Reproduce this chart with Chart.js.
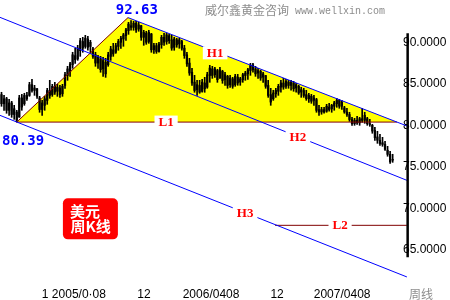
<!DOCTYPE html>
<html>
<head>
<meta charset="utf-8">
<script src="https://cdn.jsdelivr.net/npm/chart.js@4.4.1/dist/chart.umd.min.js"></script>
<style>
  html, body { margin: 0; padding: 0; background: #fff; }
  #wrap { width: 450px; height: 300px; position: relative; }
</style>
</head>
<body>
<div id="wrap"><canvas id="chart"></canvas></div>
<script>
// weekly bars of the dollar index, one entry per week (week 0 = first bar)
const opens = [
  83.7,82.6,83.2,81.8,82.7,81.3,81.6,81.0,83.3,82.6,
  83.6,83.6,84.9,84.2,84.4,83.3,81.9,82.4,83.0,84.2,
  83.7,84.7,84.1,84.5,83.8,84.8,86.0,86.5,87.3,88.4,
  88.0,89.0,90.1,89.5,90.4,89.5,89.2,88.5,87.5,88.0,
  86.8,87.6,87.3,88.3,89.1,88.8,89.5,90.0,90.4,90.8,
  91.4,92.0,91.8,92.3,91.6,92.0,90.6,91.1,90.1,91.0,
  89.1,89.6,88.9,89.7,90.6,90.1,90.8,90.3,89.4,90.3,
  89.8,90.1,89.3,88.5,87.5,86.4,85.2,84.3,84.8,84.1,
  85.1,84.6,86.0,86.8,86.1,86.6,85.7,86.5,85.5,85.9,
  84.9,85.6,84.9,85.8,85.2,85.5,86.0,86.2,86.6,87.3,
  86.8,86.3,86.5,85.8,86.0,84.8,83.7,83.2,83.8,84.1,
  84.6,85.1,84.7,85.2,84.8,85.1,84.5,84.7,84.0,84.2,
  83.7,83.2,83.5,83.0,83.1,81.9,81.6,81.9,81.7,82.2,
  82.0,82.3,82.6,83.0,82.3,82.1,81.6,81.3,80.7,80.2,
  80.6,80.3,80.8,80.6,80.8,80.2,80.0,79.4,78.6,78.2,
  77.9,77.7,77.0,76.5,75.8
];
const highs = [
  83.98,83.61,83.37,83.13,82.89,82.41,81.81,83.61,83.73,83.86,
  83.98,85.18,85.54,84.82,84.46,83.49,83.01,83.49,84.46,85.42,
  84.94,85.18,84.94,84.82,84.94,86.39,87.11,87.59,88.80,89.28,
  89.64,90.48,90.60,90.84,90.72,90.24,89.40,88.80,88.43,88.31,
  88.19,88.07,88.80,89.52,89.88,89.88,90.36,90.72,91.08,91.69,
  92.41,92.63,92.53,92.53,92.41,92.05,91.45,91.33,91.45,91.08,
  89.88,89.88,90.00,90.84,91.08,91.08,90.96,90.84,90.60,90.48,
  90.48,90.24,89.64,88.80,88.07,86.87,86.02,85.42,85.42,85.54,
  85.78,86.39,87.23,87.11,86.99,86.75,86.99,86.63,86.39,86.02,
  86.02,85.78,86.14,86.14,85.78,86.27,86.51,86.87,87.47,87.47,
  87.11,86.87,86.63,86.39,86.02,85.42,84.46,84.22,84.46,84.94,
  85.42,85.66,85.54,85.42,85.42,85.30,85.06,84.82,84.58,84.46,
  84.22,83.86,83.73,83.61,83.25,82.41,82.17,82.17,82.53,82.65,
  82.53,82.89,83.25,83.13,83.01,82.29,82.05,81.57,80.96,80.84,
  81.08,80.96,82.05,81.57,80.96,80.72,80.12,79.76,79.28,78.92,
  78.55,78.07,77.47,76.87,76.51
];
const lows = [
  82.29,81.81,81.45,81.20,80.96,80.72,80.39,80.96,81.81,82.41,
  83.01,83.49,83.98,83.61,83.25,81.57,81.20,81.81,82.53,83.25,
  83.49,83.73,83.49,83.37,83.49,84.46,85.42,85.90,86.87,87.47,
  87.83,88.31,88.80,89.28,89.04,88.67,88.07,87.11,86.87,86.39,
  85.90,85.78,87.11,87.83,88.31,88.67,89.04,89.28,89.52,90.24,
  90.96,91.45,91.45,91.20,91.33,90.24,89.64,89.76,89.88,88.80,
  88.67,88.67,88.80,89.28,89.64,89.76,89.88,89.04,89.04,89.40,
  89.28,89.04,88.07,87.11,86.02,84.82,83.98,83.61,83.86,83.98,
  83.98,84.46,85.18,85.66,85.78,85.18,85.66,85.06,84.82,84.46,
  84.58,84.46,84.70,84.82,84.82,85.18,85.42,85.54,86.02,86.39,
  85.90,85.66,85.42,85.18,84.46,83.37,82.41,83.01,83.37,83.61,
  83.98,84.34,84.46,84.46,84.22,84.10,83.98,83.73,83.37,83.37,
  83.01,82.77,82.65,82.41,81.57,81.20,81.33,81.45,81.57,81.69,
  81.57,81.81,82.17,82.05,81.93,81.45,81.08,80.48,80.00,80.00,
  80.12,80.00,80.36,80.24,80.00,79.88,79.04,78.19,77.83,77.59,
  77.47,76.99,76.27,75.42,75.54
];
const closes = [
  82.6,83.2,81.8,82.7,81.3,82.0,80.6,83.3,82.2,83.6,
  83.2,84.9,84.2,84.5,83.5,81.9,82.7,83.2,84.2,83.6,
  84.7,84.0,84.6,83.7,84.7,86.1,86.8,87.4,88.5,87.9,
  89.3,90.2,89.3,90.5,89.4,90.0,88.3,87.5,88.2,86.7,
  87.8,86.2,88.5,89.2,88.6,89.6,90.1,90.5,90.9,91.5,
  92.2,91.8,92.3,91.5,92.1,90.6,91.2,90.0,91.2,89.1,
  89.6,88.9,89.8,90.6,90.0,90.9,90.2,89.3,90.4,89.7,
  90.3,89.3,88.4,87.4,86.3,85.1,84.2,84.9,84.0,85.2,
  84.4,86.1,86.9,86.0,86.8,85.5,86.7,85.4,86.1,84.8,
  85.7,84.7,85.9,85.1,85.6,86.1,86.3,86.7,87.2,86.7,
  86.2,86.6,85.7,86.2,84.7,83.6,82.8,83.9,84.2,84.7,
  85.1,84.6,85.3,84.8,85.2,84.4,84.9,83.9,84.3,83.6,
  83.2,83.6,82.9,83.3,81.8,81.6,81.9,81.6,82.3,81.9,
  82.4,82.7,83.0,82.3,82.8,81.6,81.3,80.7,80.2,80.6,
  80.3,80.8,80.6,81.2,80.2,80.1,79.3,78.5,78.2,77.8,
  77.7,77.1,76.5,75.6,75.9
];

const yTicks = [65, 70, 75, 80, 85, 90];
const xTickWeeks = [28.5, 56.1, 82.5, 108.5, 134.1];
const xTickLabels = ["1 2005/0·08", "12", "2006/0408", "12", "2007/0408"];

// trend lines as [week, value] end points
const riseLine = [[6, 80.39], [49.8, 92.98]];
const h1Line = [[49.8, 92.98], [160, 79.88]];
const h2Line = [[-0.6, 93.01], [159.6, 73.37]];
const h3Line = [[-0.6, 81.2], [159.6, 61.73]];
const l1Line = [[6, 80.39], [155.7, 80.39]];
const l2Line = [[107.7, 67.95], [159.6, 67.95]];
const triangle = [[6, 80.39], [49.8, 92.98], [155.7, 80.39]];
const axisLine = [[159.9, 91.1], [159.9, 64.1]];

const toPts = arr => arr.map(p => ({ x: p[0], y: p[1] }));

function lineSet(pts, color, width) {
  return {
    type: "line",
    data: toPts(pts),
    borderColor: color,
    borderWidth: width || 1,
    pointRadius: 0,
    fill: false,
    clip: false,
    order: 1,
  };
}

// text notes placed with the chart scales
const notesPlugin = {
  id: "notes",
  afterDatasetsDraw(chart) {
    const { ctx, scales } = chart;
    const px = v => scales.x.getPixelForValue(v);
    const py = v => scales.y.getPixelForValue(v);
    ctx.save();
    ctx.textBaseline = "middle";

    // watermark
    ctx.fillStyle = "#8c8c8c";
    ctx.textAlign = "left";
    ctx.font = "12px 'Noto Sans CJK SC'";
    ctx.fillText("威尔鑫黄金咨询", 205, 10);
    ctx.font = "10px 'Liberation Mono'";
    ctx.fillText("www.wellxin.com", 295, 11);

    // extreme values
    ctx.fillStyle = "#0000ff";
    ctx.textAlign = "center";
    ctx.font = "bold 14px 'DejaVu Sans Mono'";
    ctx.fillText("92.63", px(53.3), py(93.86));
    ctx.fillText("80.39", px(8.5), py(78.07));

    // line names on white patches
    const tags = [
      ["H1", 84.1, 88.73],
      ["L1", 64.8, 80.39],
      ["H2", 116.7, 78.67],
      ["H3", 95.9, 69.46],
      ["L2", 133.3, 68.07],
    ];
    ctx.font = "bold 13px 'Liberation Serif'";
    tags.forEach(([t, wx, wy]) => {
      const x = px(wx), y = py(wy);
      const w = ctx.measureText(t).width;
      ctx.fillStyle = "#fff";
      ctx.fillRect(x - w / 2 - 4, y - 6.5, w + 8, 13);
      ctx.fillStyle = "#ff0000";
      ctx.fillText(t, x, y + 1);
    });

    // title badge
    const cx = px(35.0), cy = py(68.73);
    ctx.fillStyle = "#ff0000";
    ctx.beginPath();
    ctx.roundRect(cx - 27.5, cy - 20.5, 55, 41, 5);
    ctx.fill();
    ctx.fillStyle = "#fff";
    ctx.textAlign = "left";
    ctx.font = "bold 15px 'Noto Sans CJK SC'";
    ctx.fillText("美元", cx - 20.5, cy - 8);
    ctx.fillText("周K线", cx - 20, cy + 7);

    // axis caption
    ctx.fillStyle = "#8c8c8c";
    ctx.textAlign = "center";
    ctx.font = "12px 'Noto Sans CJK SC'";
    ctx.fillText("周线", 421, 294);
    ctx.restore();
  },
};

const ctx = document.getElementById("chart").getContext("2d");
new Chart(ctx, {
  type: "bar",
  data: {
    datasets: [
      lineSet(h1Line, "#0000ff"),
      lineSet(h2Line, "#0000ff"),
      lineSet(h3Line, "#0000ff"),
      lineSet(riseLine, "#800000"),
      lineSet(l1Line, "#800000"),
      lineSet(l2Line, "#800000"),
      Object.assign(lineSet(axisLine, "#000", 2.5), { order: 0 }),
      {
        type: "bar",
        data: highs.map((h, i) => ({ x: i, y: [lows[i], h] })),
        backgroundColor: "#000",
        barThickness: 1,
        grouped: false,
        order: 3,
      },
      {
        type: "bar",
        data: opens.map((o, i) => ({ x: i, y: [o, closes[i]] })),
        backgroundColor: "#000",
        barThickness: 1.6,
        grouped: false,
        order: 3,
      },
      {
        type: "line",
        data: toPts(triangle),
        fill: { value: 80.39 },
        backgroundColor: "#ffff00",
        borderColor: "rgba(0,0,0,0)",
        borderWidth: 0,
        pointRadius: 0,
        order: 9,
      },
    ],
  },
  options: {
    responsive: true,
    maintainAspectRatio: false,
    animation: false,
    layout: { padding: 0 },
    plugins: {
      legend: { display: false },
      tooltip: { enabled: false },
    },
    scales: {
      x: {
        type: "linear",
        min: -0.59,
        max: 158.07,
        offset: false,
        grid: { display: false, drawTicks: false },
        border: { display: false },
        afterBuildTicks: s => { s.ticks = xTickWeeks.map(v => ({ value: v })); },
        afterFit: s => {
          s.height = 17;
          s.paddingLeft = 0;
          s.paddingRight = 0;
        },
        ticks: {
          autoSkip: false,
          maxRotation: 0,
          padding: 4,
          color: "#000",
          font: { family: "'Liberation Sans', Arial, sans-serif", size: 12 },
          callback: (v, i) => xTickLabels[i],
        },
      },
      y: {
        type: "linear",
        position: "right",
        min: 61,
        max: 95.1,
        grid: { display: false, drawTicks: false },
        border: { display: false },
        afterBuildTicks: s => { s.ticks = yTicks.map(v => ({ value: v })); },
        afterFit: s => {
          s.width = 47;
          s.paddingTop = 0;
          s.paddingBottom = 0;
        },
        ticks: {
          padding: 0,
          color: "#000",
          font: { family: "'Liberation Sans', Arial, sans-serif", size: 12 },
          callback: v => v.toFixed(4),
        },
      },
    },
  },
  plugins: [notesPlugin],
});
</script>
</body>
</html>
